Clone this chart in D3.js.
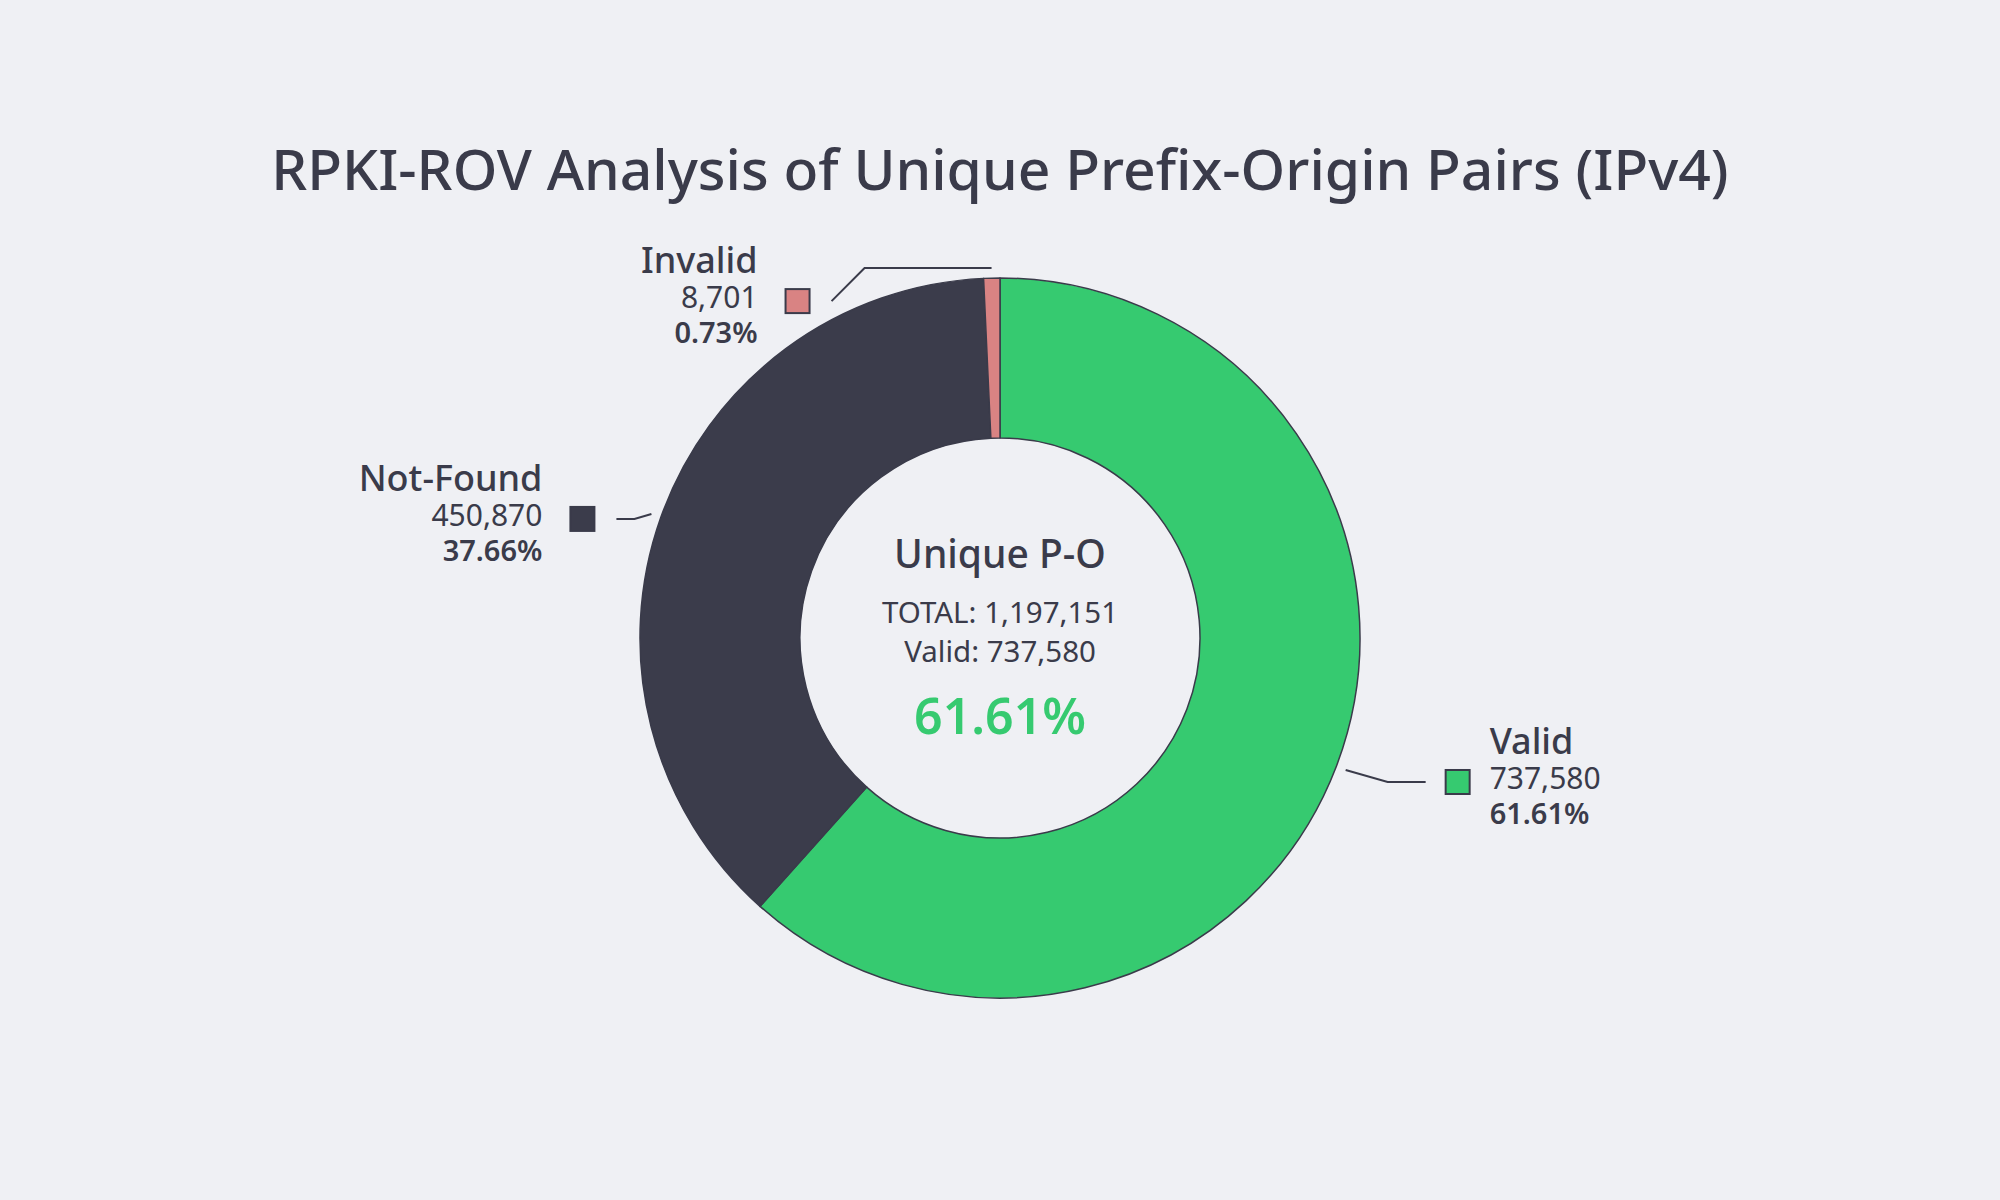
<!DOCTYPE html>
<html lang="en">
<head>
<meta charset="utf-8">
<title>RPKI-ROV Analysis of Unique Prefix-Origin Pairs (IPv4)</title>
<style>
  html, body { margin: 0; padding: 0; background: #eff0f4; }
  svg { display: block; }
  text { font-family: "Noto Sans", "Open Sans", sans-serif; fill: #3a3b4a; }
  .title { font-size: 57px; font-weight: 500; text-anchor: middle; }
  .name { font-size: 36px; font-weight: 500; }
  .value { font-size: 30px; font-weight: 400; }
  .pct { font-size: 29px; font-weight: 600; }
  .centerTitle { font-size: 39px; font-weight: 500; text-anchor: middle; }
  .centerLine { font-size: 29.5px; font-weight: 400; text-anchor: middle; }
  .centerPct { font-size: 50px; font-weight: 600; text-anchor: middle; fill: #36ca70; }
</style>
</head>
<body>
<div id="chart"></div>
<script src="https://cdn.jsdelivr.net/npm/d3@7"></script>
<script>

var categories = ["Valid", "Not-Found", "Invalid"],
    counts = [737580, 450870, 8701],
    colors = ["#36ca70", "#3b3c4b", "#d98383"];

// leader line bends, relative to the point just outside each slice
var callouts = [
  {side: "right", elbow: [42, 12], end: [38, 0]},
  {side: "left", elbow: [-17, 5], end: [-18, 0]},
  {side: "left", elbow: [-127, 0], end: [-33, 33]}
];

var width = 2000,
    height = 1200,
    cx = 1000,
    cy = 638,
    outerR = 360,
    innerR = 200,
    ink = "#3a3b4a";

var total = d3.sum(counts);
var fmt = d3.format(",");
function pct(v) { return (v / total * 100).toFixed(2) + "%"; }

var svg = d3.select("#chart").append("svg")
    .attr("width", width)
    .attr("height", height);

svg.append("rect").attr("width", width).attr("height", height).attr("fill", "#eff0f4");

svg.append("text")
    .attr("class", "title")
    .attr("x", width / 2)
    .attr("y", 190)
    .text("RPKI-ROV Analysis of Unique Prefix-Origin Pairs (IPv4)");

var data = categories.map(function(c, i) {
  return {name: c, value: counts[i], color: colors[i], callout: callouts[i]};
});

var pie = d3.pie().sort(null).value(function(d) { return d.value; });
var arc = d3.arc().innerRadius(innerR).outerRadius(outerR);

var g = svg.append("g").attr("transform", "translate(" + cx + "," + cy + ")");

var arcs = pie(data);

g.selectAll("path.slice")
  .data(arcs)
  .enter()
  .append("path")
  .attr("class", "slice")
  .attr("d", arc)
  .attr("fill", function(d) { return d.data.color; })
  .attr("stroke", ink)
  .attr("stroke-width", 1.5)
  .attr("stroke-linejoin", "round");

// callouts
arcs.forEach(function(d) {
  var mid = (d.startAngle + d.endAngle) / 2,
      r = outerR + 10,
      p1 = [Math.sin(mid) * r, -Math.cos(mid) * r],
      c = d.data.callout,
      p2 = [p1[0] + c.elbow[0], p1[1] + c.elbow[1]],
      p3 = [p2[0] + c.end[0], p2[1] + c.end[1]],
      right = c.side === "right",
      sq = 24,
      sqX = right ? p3[0] + 20 : p3[0] - 22 - sq,
      txtX = right ? sqX + sq + 20 : sqX - 28;

  g.append("path")
    .attr("d", d3.line()([p1, p2, p3]))
    .attr("fill", "none")
    .attr("stroke", ink)
    .attr("stroke-width", 2);

  g.append("rect")
    .attr("x", sqX)
    .attr("y", p3[1] - sq / 2)
    .attr("width", sq)
    .attr("height", sq)
    .attr("fill", d.data.color)
    .attr("stroke", ink)
    .attr("stroke-width", 2);

  var anchor = right ? "start" : "end";
  g.append("text").attr("class", "name")
    .attr("x", txtX).attr("y", p3[1] - 28)
    .attr("text-anchor", anchor)
    .text(d.data.name);
  g.append("text").attr("class", "value")
    .attr("x", txtX).attr("y", p3[1] + 7)
    .attr("text-anchor", anchor)
    .text(fmt(d.data.value));
  g.append("text").attr("class", "pct")
    .attr("x", txtX).attr("y", p3[1] + 42)
    .attr("text-anchor", anchor)
    .text(pct(d.data.value));
});

// centre summary
var center = svg.append("g").attr("transform", "translate(" + cx + ",0)");
center.append("text").attr("class", "centerTitle").attr("y", 568).text("Unique P-O");
center.append("text").attr("class", "centerLine").attr("y", 623).text("TOTAL: " + fmt(total));
center.append("text").attr("class", "centerLine").attr("y", 662).text("Valid: " + fmt(counts[0]));
center.append("text").attr("class", "centerPct").attr("y", 734).text(pct(counts[0]));

</script>
</body>
</html>
